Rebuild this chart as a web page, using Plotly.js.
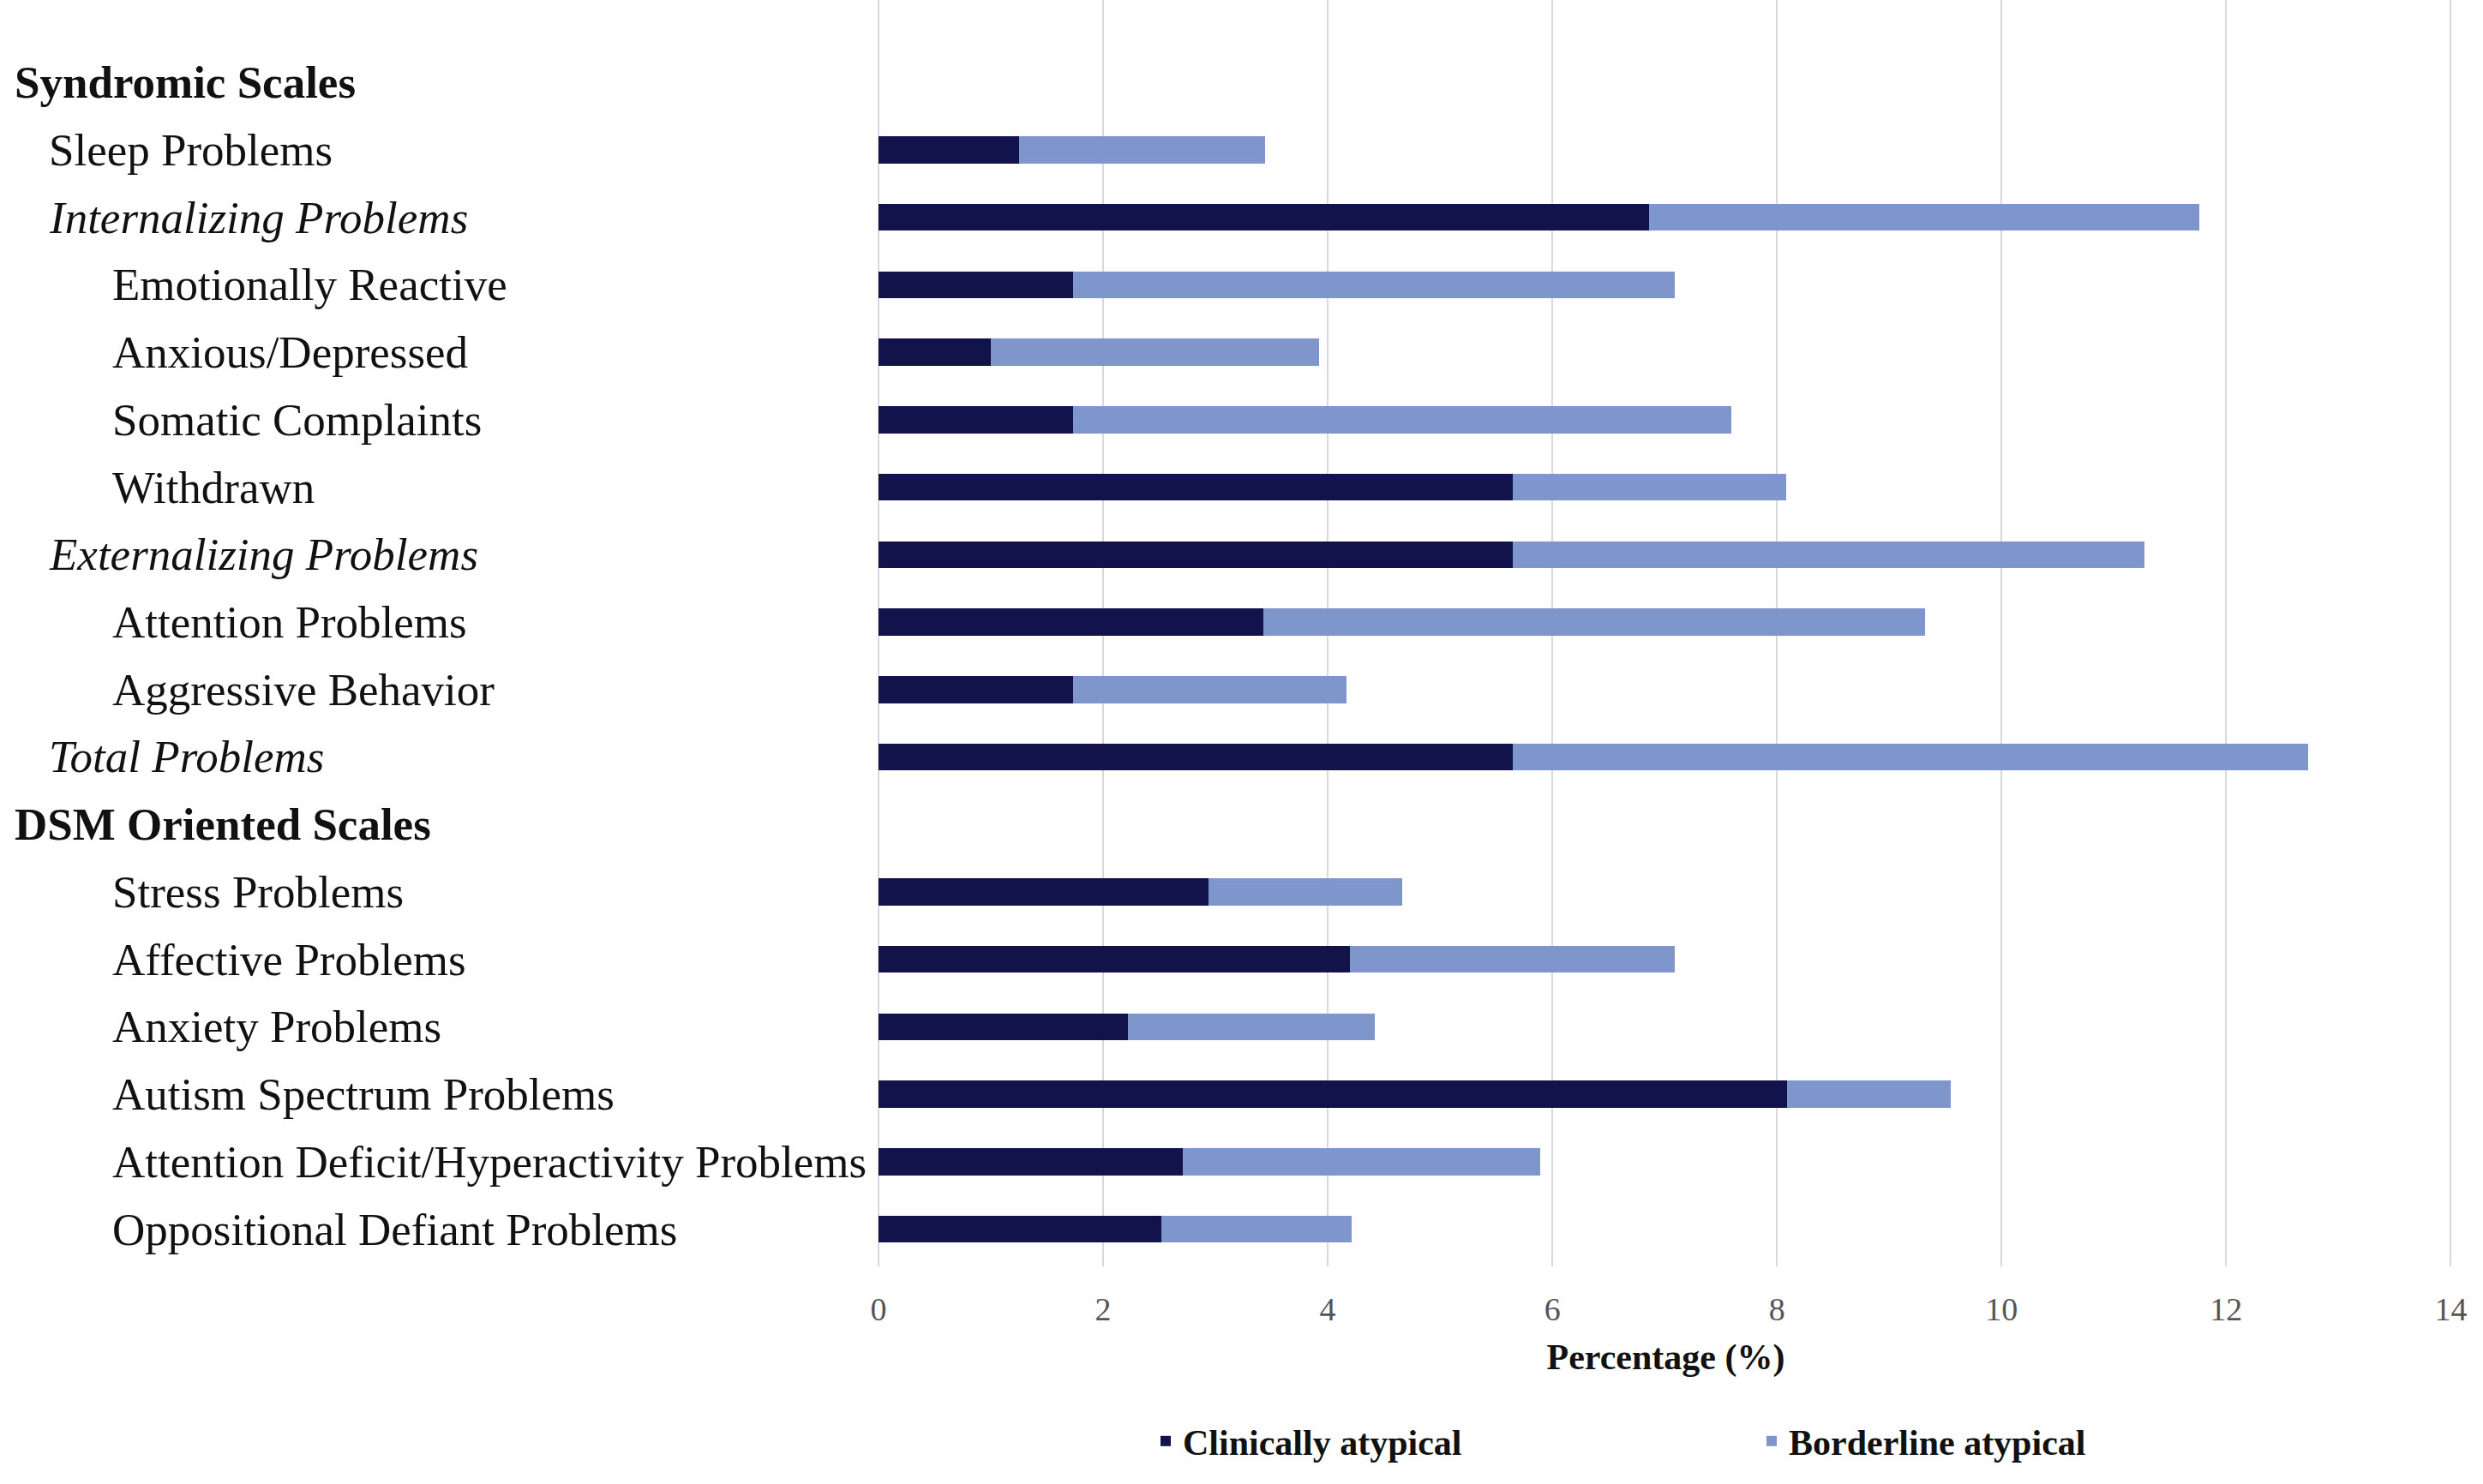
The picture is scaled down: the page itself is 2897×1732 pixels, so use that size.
<!DOCTYPE html>
<html>
<head>
<meta charset="utf-8">
<script src="https://cdn.plot.ly/plotly-3.0.1.min.js"></script>
<style>
  html, body { margin: 0; padding: 0; background: #ffffff; }
  #chart { width: 2897px; height: 1732px; }
</style>
</head>
<body>
<div id="chart"></div>
<script>
// ---- Data ----
const categories = [
  "Syndromic Scales",
  "Sleep Problems",
  "Internalizing Problems",
  "Emotionally Reactive",
  "Anxious/Depressed",
  "Somatic Complaints",
  "Withdrawn",
  "Externalizing Problems",
  "Attention Problems",
  "Aggressive Behavior",
  "Total Problems",
  "DSM Oriented Scales",
  "Stress Problems",
  "Affective Problems",
  "Anxiety Problems",
  "Autism Spectrum Problems",
  "Attention Deficit/Hyperactivity Problems",
  "Oppositional Defiant Problems"
];
const clinicallyAtypical = [null, 1.25, 6.86, 1.73, 1.00, 1.73, 5.65, 5.65, 3.43, 1.73, 5.65, null, 2.94, 4.20, 2.22, 8.09, 2.71, 2.52];
const borderlineAtypical = [null, 2.19, 4.90, 5.36, 2.92, 5.86, 2.43, 5.62, 5.89, 2.44, 7.08, null, 1.72, 2.89, 2.20, 1.46, 3.18, 1.69];
const seriesNames = ["Clinically atypical", "Borderline atypical"];
const xTickValues = [0, 2, 4, 6, 8, 10, 12, 14];
const xAxisTitle = "Percentage (%)";

// ---- Label styling (indent level and font style per row) ----
const labelIndent = [0, 1, 1, 2, 2, 2, 2, 1, 2, 2, 1, 0, 2, 2, 2, 2, 2, 2];
const labelStyle  = ["b", "n", "i", "n", "n", "n", "n", "i", "n", "n", "i", "b", "n", "n", "n", "n", "n", "n"];

// ---- Geometry ----
const W = 2897, H = 1732;
const plotLeft = 1025, plotRight = 2862, plotTop = 0, plotBottom = 1478;
const plotW = plotRight - plotLeft;
const indentPx = [15, 55, 129];

const serif = "Liberation Serif, Times New Roman, serif";
const darkColor = "#12134A";
const lightColor = "#7E96CB";

const traces = [
  {
    type: "bar", orientation: "h",
    name: seriesNames[0],
    y: categories, x: clinicallyAtypical,
    marker: { color: darkColor, line: { width: 0 } },
    hoverinfo: "skip"
  },
  {
    type: "bar", orientation: "h",
    name: seriesNames[1],
    y: categories, x: borderlineAtypical,
    marker: { color: lightColor, line: { width: 0 } },
    hoverinfo: "skip"
  }
];

const annotations = categories.map((c, i) => {
  let txt = c;
  if (labelStyle[i] === "b") txt = "<b>" + c + "</b>";
  else if (labelStyle[i] === "i") txt = "<i>" + c + "</i>";
  return {
    xref: "paper", yref: "y",
    x: (indentPx[labelIndent[i]] - plotLeft) / plotW,
    y: c,
    xanchor: "left", yanchor: "middle",
    text: txt, showarrow: false,
    font: { family: serif, size: 53, color: "#111111" }
  };
});

const layout = {
  width: W, height: H,
  paper_bgcolor: "#ffffff", plot_bgcolor: "#ffffff",
  margin: { l: plotLeft, r: W - plotRight, t: plotTop, b: H - plotBottom, pad: 0 },
  barmode: "stack",
  bargap: 0.6,
  showlegend: true,
  legend: {
    orientation: "h",
    traceorder: "normal",
    x: (1340 - plotLeft) / plotW, xanchor: "left",
    y: -(1682 - plotBottom) / (plotBottom - plotTop), yanchor: "middle",
    entrywidth: 662, entrywidthmode: "pixels",
    font: { family: serif, size: 42, color: "#111111", weight: "bold" },
    bgcolor: "rgba(0,0,0,0)"
  },
  xaxis: {
    range: [0, 14.02],
    tickvals: xTickValues,
    ticktext: xTickValues.map(String),
    showgrid: true, gridcolor: "#D9D9D9", gridwidth: 2,
    zeroline: true, zerolinecolor: "#D9D9D9", zerolinewidth: 2,
    showline: false, ticks: "",
    ticklabelstandoff: 24,
    tickfont: { family: serif, size: 38, color: "#555555" },
    title: { text: xAxisTitle, standoff: 20, font: { family: serif, size: 42, color: "#111111", weight: "bold" } },
    automargin: false, fixedrange: true
  },
  yaxis: {
    type: "category",
    categoryorder: "array", categoryarray: categories,
    range: [17.55, -1.22],
    showticklabels: false, showgrid: false, zeroline: false, showline: false, ticks: "",
    automargin: false, fixedrange: true
  },
  annotations: annotations
};

Plotly.newPlot("chart", traces, layout, { displayModeBar: false, staticPlot: true });
</script>
</body>
</html>
